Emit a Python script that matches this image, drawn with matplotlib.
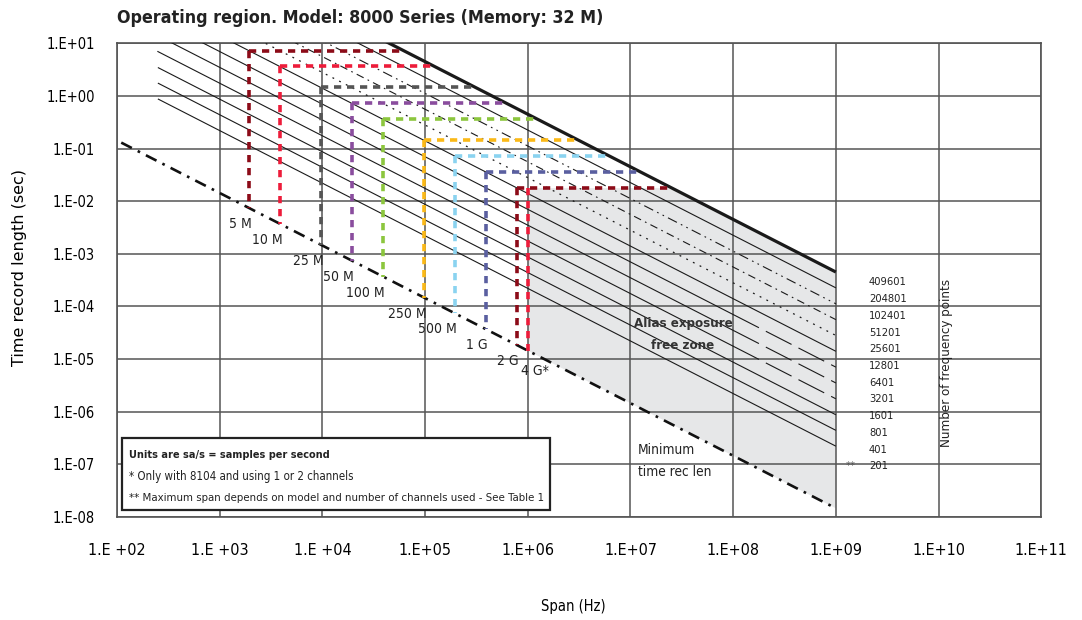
import numpy as np
import matplotlib.pyplot as plt
from matplotlib.patches import Rectangle, Polygon

plt.rcParams['font.family'] = ['DejaVu Sans']
plt.rcParams['font.stretch'] = 'condensed'

# 频点数曲线：N 以及 1 GHz 跨度处的时间记录长度
freq_points = [409601, 204801, 102401, 51201, 25601, 12801, 6401, 3201, 1601, 801, 401, 201]
time_at_1ghz = [4.5e-4, 2.25e-4, 1.12e-4, 5.6e-5, 2.8e-5, 1.4e-5, 7.0e-6, 3.5e-6,
                1.75e-6, 8.7e-7, 4.4e-7, 2.2e-7]
line_span_lo = 250.0
line_span_hi = 1e9
tail_span = 1e8          # 1601/3201/6401 变为长虚线的起点
dashed_tail = [6401, 3201, 1601]

# 采样率方框
rate_labels = ["5 M", "10 M", "25 M", "50 M", "100 M", "250 M", "500 M", "1 G", "2 G", "4 G*"]
rate_span = [1.95e3, 3.9e3, 9.8e3, 1.95e4, 3.9e4, 9.8e4, 1.95e5, 3.9e5, 7.8e5, 1.0e6]
rate_time = [7.3, 3.75, 1.46, 0.74, 0.365, 0.148, 0.073, 0.0355, 0.0177, 0.0177]
rate_colors = ["#8c0b18", "#ed1c3a", "#555555", "#8a4d9e", "#8cc63e",
               "#fbb917", "#8ad3f0", "#5a5fa0", "#8c0b18", "#ed1c3a"]

# 最小时间记录长度（对角虚线）
min_span = [1.1e2, 1.0e9]
min_time = [1.3e-1, 1.45e-8]

x_ticks = [1e2, 1e3, 1e4, 1e5, 1e6, 1e7, 1e8, 1e9, 1e10, 1e11]
x_tick_labels = ["1.E +02", "1.E +03", "1.E +04", "1.E+05", "1.E+06", "1.E+07",
                 "1.E+08", "1.E+09", "1.E+10", "1.E+11"]
y_ticks = [1e-8, 1e-7, 1e-6, 1e-5, 1e-4, 1e-3, 1e-2, 1e-1, 1e0, 1e1]
y_tick_labels = ["1.E-08", "1.E-07", "1.E-06", "1.E-05", "1.E-04", "1.E-03",
                 "1.E-02", "1.E-01", "1.E+00", "1.E+01"]

W, H = 1082, 620


def fx(px):
    return px / W


def fy(py):
    return 1 - py / H


def t_min(f):
    return 10 ** np.interp(np.log10(f), np.log10(min_span), np.log10(min_time))


fig = plt.figure(figsize=(W / 100, H / 100), dpi=100)
ax = fig.add_axes([fx(117), fy(516.8), fx(1041.3) - fx(117), fy(43.4) - fy(516.8)])
ax.set_xscale('log')
ax.set_yscale('log')
ax.set_xlim(1e2, 1e11)
ax.set_ylim(1e-8, 1e1)

# 网格
ax.set_xticks(x_ticks)
ax.set_xticklabels(x_tick_labels, fontsize=11.5)
ax.set_yticks(y_ticks)
ax.set_yticklabels(y_tick_labels, fontsize=10.5)
ax.minorticks_off()
ax.tick_params(axis='x', length=0, pad=19)
ax.tick_params(axis='y', length=0, pad=16)
ax.grid(True, color='#555555', lw=1.1, zorder=1.5)
ax.set_axisbelow(False)
for s in ax.spines.values():
    s.set_color('#444444')
    s.set_linewidth(1.1)

# 无混叠区（灰色）
t_top = time_at_1ghz[0]
zone_left = rate_span[-1]
zone_top = rate_time[-1]
f_meet = t_top * line_span_hi / zone_top
zone = Polygon([(zone_left, zone_top), (f_meet, zone_top), (line_span_hi, t_top),
                (line_span_hi, t_min(line_span_hi)), (zone_left, t_min(zone_left))],
               closed=True, facecolor='#e6e7e8', edgecolor='none', zorder=1)
ax.add_patch(zone)

# 频点数曲线
styles = {
    409601: dict(ls='-', lw=2.3),
    204801: dict(ls='-', lw=0.8),
    102401: dict(ls=(0, (9, 4, 1.5, 4, 1.5, 4)), lw=0.8),
    51201: dict(ls=(0, (7, 4, 1.5, 4)), lw=0.8),
    25601: dict(ls=(0, (1.5, 4.5)), lw=0.9),
}
for n, t_end in zip(freq_points, time_at_1ghz):
    st = styles.get(n, dict(ls='-', lw=0.8))
    t_lo = t_end * line_span_hi / line_span_lo
    if n in dashed_tail:
        t_mid = t_end * line_span_hi / tail_span
        ax.plot([line_span_lo, tail_span], [t_lo, t_mid], color='#1a1a1a', lw=0.8, zorder=3)
        ax.plot([tail_span, line_span_hi], [t_mid, t_end], color='#1a1a1a', lw=0.8,
                ls=(0, (26, 7)), zorder=3)
    else:
        ax.plot([line_span_lo, line_span_hi], [t_lo, t_end], color='#1a1a1a',
                ls=st['ls'], lw=st['lw'], zorder=3, solid_capstyle='butt')

# 最小时间记录长度
ax.plot(min_span, min_time, color='#111111', lw=1.9, ls=(0, (4.5, 2.5, 1, 2.5)), zorder=3)

# 采样率方框
for i, (lab, f, t, c) in enumerate(zip(rate_labels, rate_span, rate_time, rate_colors)):
    ax.plot([f, f], [t, t_min(f)], color=c, lw=2.6, ls=(0, (2.0, 1.6)), zorder=4)
    if i < len(rate_labels) - 1:
        ax.plot([f, t_top * line_span_hi / t], [t, t], color=c, lw=2.6,
                ls=(0, (2.0, 1.6)), zorder=4)
    if lab.startswith("4 G"):
        ax.annotate(lab, (f, t_min(f)), xytext=(21, -13), textcoords='offset pixels',
                    ha='right', va='top', fontsize=10, color='#222222')
    else:
        ax.annotate(lab, (f, t_min(f)), xytext=(2, -9), textcoords='offset pixels',
                    ha='right', va='top', fontsize=10, color='#222222')

# 文字
fig.text(fx(117), fy(18), "Operating region. Model: 8000 Series (Memory: 32 M)",
         fontsize=12.8, fontweight='bold', ha='left', va='center', color='#222222')
fig.text(fx(573), fy(607), "Span (Hz)", fontsize=10.5, ha='center', va='center')
fig.text(fx(20), fy(268), "Time record length (sec)", fontsize=11.5, rotation=90,
         ha='center', va='center', fontstretch='normal')

fig.text(fx(683), fy(323.5), "Alias exposure", fontsize=9.5, fontweight='bold',
         ha='center', va='center', color='#333333')
fig.text(fx(683), fy(345.5), "free zone", fontsize=9.5, fontweight='bold',
         ha='center', va='center', color='#333333')
fig.text(fx(638), fy(450), "Minimum", fontsize=9.8, ha='left', va='center', color='#222222')
fig.text(fx(638), fy(471.5), "time rec len", fontsize=9.8, ha='left', va='center',
         color='#222222')

for k, n in enumerate(freq_points):
    fig.text(fx(869), fy(282.3 + 16.74 * k), str(n), fontsize=8, ha='left', va='center',
             color='#222222')
fig.text(fx(851), fy(466.3), "**", fontsize=8, ha='center', va='center', color='#555555')
fig.text(fx(946.5), fy(363), "Number of frequency points", fontsize=9.5, rotation=90,
         ha='center', va='center', color='#222222')

# 说明框
box = Rectangle((fx(121.7), fy(510)), fx(550) - fx(121.7), fy(438.3) - fy(510),
                transform=fig.transFigure, facecolor='white', edgecolor='#222222',
                lw=1.6, zorder=5)
fig.add_artist(box)
fig.text(fx(129), fy(455), "Units are sa/s = samples per second", fontsize=7.8,
         fontweight='bold', ha='left', va='center', color='#222222', zorder=6)
fig.text(fx(129), fy(476.7), "* Only with 8104 and using 1 or 2 channels", fontsize=8.3,
         ha='left', va='center', color='#222222', zorder=6)
fig.text(fx(129), fy(497.7),
         "** Maximum span depends on model and number of channels used - See Table 1",
         fontsize=8.2, ha='left', va='center', color='#222222', zorder=6)

fig.savefig("out.png", dpi=100)
